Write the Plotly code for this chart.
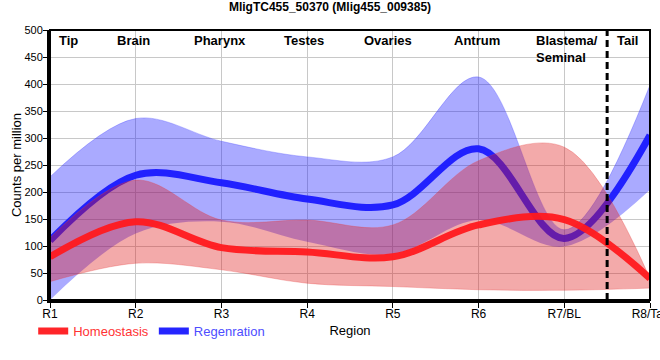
import plotly.graph_objects as go

# ---- data ----
regions = ["R1", "R2", "R3", "R4", "R5", "R6", "R7/BL", "R8/Tail"]
tissues = ["Tip", "Brain", "Pharynx", "Testes", "Ovaries", "Antrum", "Blastema/<br>Seminal", "Tail"]

homeo_mean = [80, 145, 97, 89, 80, 139, 149, 40]
homeo_upper = [115, 222, 148, 148, 139, 258, 283, 40]
homeo_lower = [34, 68, 56, 31, 25, 19, 18, 22]

regen_mean = [110, 231, 217, 187, 176, 280, 114, 305]
regen_upper = [228, 336, 294, 265, 265, 413, 130, 398]
regen_lower = [0, 123, 145, 108, 85, 148, 99, 204]

x = list(range(len(regions)))

# layout-only positions for tissue labels (data units along x)
tissue_x = [0.22, 0.97, 1.98, 2.96, 3.94, 4.98, 5.65, 6.74]
tissue_anchor = ["center"] * 6 + ["left", "center"]
boundary_x = 6.5

FONT = "Liberation Sans, Arial, sans-serif"
BLUE_FILL = "rgba(20,20,255,0.36)"
RED_FILL = "rgba(222,20,20,0.36)"
BLUE_LINE = "rgba(25,25,255,0.95)"
RED_LINE = "rgba(255,25,30,0.95)"
SMOOTH = 1.0

fig = go.Figure()

# Regeneration band
fig.add_trace(go.Scatter(x=x, y=regen_lower, mode="lines",
                         line=dict(width=0, shape="spline", smoothing=SMOOTH),
                         showlegend=False, hoverinfo="skip"))
fig.add_trace(go.Scatter(x=x, y=regen_upper, mode="lines", fill="tonexty",
                         fillcolor=BLUE_FILL,
                         line=dict(width=0.6, color="rgba(60,60,255,0.5)", shape="spline", smoothing=SMOOTH),
                         showlegend=False, hoverinfo="skip"))
# Regeneration mean line
fig.add_trace(go.Scatter(x=x, y=regen_mean, mode="lines",
                         name="<span style='color:#4d4dff'>Regenration</span>",
                         line=dict(width=7, color=BLUE_LINE, shape="spline", smoothing=SMOOTH),
                         legendrank=2))
# Homeostasis band
fig.add_trace(go.Scatter(x=x, y=homeo_lower, mode="lines",
                         line=dict(width=0.6, color="rgba(230,60,60,0.5)", shape="spline", smoothing=SMOOTH),
                         showlegend=False, hoverinfo="skip"))
fig.add_trace(go.Scatter(x=x, y=homeo_upper, mode="lines", fill="tonexty",
                         fillcolor=RED_FILL,
                         line=dict(width=0.6, color="rgba(230,60,60,0.5)", shape="spline", smoothing=SMOOTH),
                         showlegend=False, hoverinfo="skip"))
# Homeostasis mean line
fig.add_trace(go.Scatter(x=x, y=homeo_mean, mode="lines",
                         name="<span style='color:#ff3333'>Homeostasis</span>",
                         line=dict(width=7, color=RED_LINE, shape="spline", smoothing=SMOOTH),
                         legendrank=1))

# tissue labels along the top
for tx, lab, anc in zip(tissue_x, tissues, tissue_anchor):
    fig.add_annotation(x=tx, y=1, xref="x", yref="paper", text="<b>" + lab + "</b>",
                       showarrow=False, xanchor=anc, yanchor="top", align="left",
                       yshift=-1, font=dict(family=FONT, size=13, color="black"))

# dashed boundary line
fig.add_shape(type="line", x0=boundary_x, x1=boundary_x, y0=0, y1=1, xref="x", yref="paper",
              line=dict(color="black", width=3, dash="7px,4px"))
# frame (top/right thin)
fig.add_shape(type="rect", x0=0, x1=1, y0=0, y1=1, xref="paper", yref="paper",
              line=dict(color="black", width=2), layer="above")

fig.update_layout(
    width=660, height=360,
    margin=dict(l=50, r=10, t=30, b=60),
    paper_bgcolor="white", plot_bgcolor="white",
    font=dict(family=FONT, size=12, color="black"),
    title=dict(text="<b>MligTC455_50370 (Mlig455_009385)</b>", x=0.5, xanchor="center",
               y=0.992, yanchor="top", font=dict(family=FONT, size=12, color="black")),
    showlegend=True,
    legend=dict(orientation="h", x=-0.028, xanchor="left", y=-0.115, yanchor="middle",
                font=dict(family=FONT, size=13), itemwidth=30, traceorder="normal",
                bgcolor="rgba(0,0,0,0)"),
    xaxis=dict(range=[0, 7], tickvals=x, ticktext=regions, showgrid=True,
               gridcolor="rgb(200,200,200)", gridwidth=1, zeroline=False,
               showline=True, linecolor="black", linewidth=3, ticks="outside",
               ticklen=5, tickcolor="black", ticklabelstandoff=-4,
               ticklabeloverflow="allow",
               tickfont=dict(family=FONT, size=12, color="black"),
               title=dict(text="Region", font=dict(family=FONT, size=13), standoff=6),
               automargin=False),
    yaxis=dict(range=[0, 500], dtick=50, showgrid=True, gridcolor="rgb(200,200,200)",
               gridwidth=1, zeroline=False, showline=True, linecolor="black", linewidth=3,
               ticks="outside", ticklen=4, tickcolor="black", ticklabelstandoff=-2,
               tickfont=dict(family=FONT, size=11, color="black"),
               title=dict(text="Counts per million", font=dict(family=FONT, size=13), standoff=0),
               automargin=False),
)

fig.write_html("out.html", post_script="document.body.style.margin='0';",
               config={"displayModeBar": False})
